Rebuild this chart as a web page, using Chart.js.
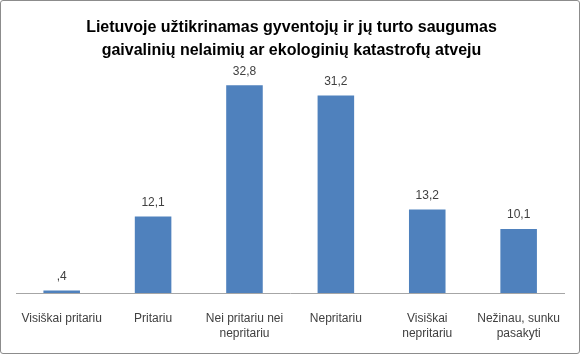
<!DOCTYPE html>
<html lang="lt">
<head>
    <meta charset="UTF-8">
    <title>Saugumas</title>
    <script src="https://cdn.jsdelivr.net/npm/chart.js"></script>
    <style>
        html, body { margin: 0; padding: 0; background: #fff; }
        #wrap { position: relative; width: 578px; height: 352px; border: 1px solid #8c8c8c; border-radius: 3px; }
    </style>
</head>
<body>
    <div id="wrap"><canvas id="chart" width="578" height="352"></canvas></div>

    <script>
        const titleLines = ['Lietuvoje užtikrinamas gyventojų ir jų turto saugumas',
                            'gaivalinių nelaimių ar ekologinių katastrofų atveju'];
        const categories = [['Visiškai pritariu'], ['Pritariu'], ['Nei pritariu nei', 'nepritariu'],
                            ['Nepritariu'], ['Visiškai', 'nepritariu'], ['Nežinau, sunku', 'pasakyti']];
        const percents = [0.4, 12.1, 32.8, 31.2, 13.2, 10.1];

        const fontName = '"Liberation Sans", Arial, sans-serif';

        // skaičiai virš stulpelių, kableliu kaip originale (,4)
        const valueLabels = {
            id: 'valueLabels',
            afterDatasetsDraw(chart) {
                const c = chart.ctx;
                const meta = chart.getDatasetMeta(0);
                c.save();
                c.font = '12px ' + fontName;
                c.fillStyle = '#404040';
                c.textAlign = 'center';
                c.textBaseline = 'middle';
                meta.data.forEach((bar, i) => {
                    let txt = percents[i].toFixed(1).replace('.', ',');
                    if (txt.startsWith('0')) txt = txt.slice(1);
                    c.fillText(txt, bar.x, bar.y - 14);
                });
                c.restore();
            }
        };

        new Chart(document.getElementById('chart'), {
            type: 'bar',
            data: {
                labels: categories,
                datasets: [{
                    data: percents,
                    backgroundColor: '#4f81bd',
                    categoryPercentage: 0.8,
                    barPercentage: 0.5
                }]
            },
            options: {
                responsive: false,
                animation: false,
                layout: { padding: { left: 15, right: 12, top: 15, bottom: -6 } },
                plugins: {
                    legend: { display: false },
                    tooltip: { enabled: false },
                    title: {
                        display: true,
                        text: titleLines,
                        color: '#000',
                        font: { family: fontName, size: 16, weight: 'bold', lineHeight: 1.45 },
                        padding: { top: 0, bottom: 9 }
                    }
                },
                scales: {
                    y: { display: false, min: 0, max: 35 },
                    x: {
                        grid: { display: false, drawTicks: false },
                        border: { display: true, color: '#a6a6a6' },
                        ticks: {
                            color: '#404040', padding: 18, maxRotation: 0, minRotation: 0, autoSkip: false,
                            font: { family: fontName, size: 12, lineHeight: 1.25 }
                        }
                    }
                }
            },
            plugins: [valueLabels]
        });
    </script>
</body>
</html>
